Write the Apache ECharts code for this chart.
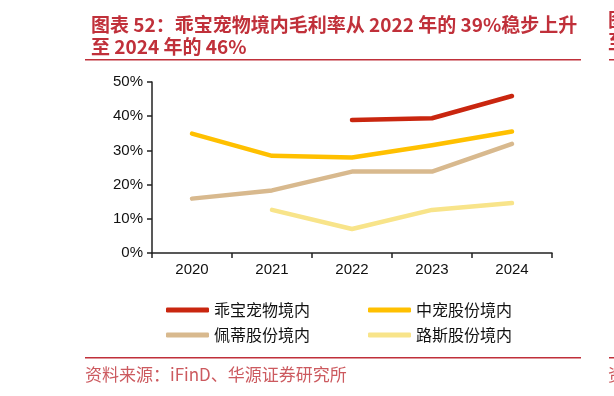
<!DOCTYPE html>
<html>
<head>
<meta charset="utf-8">
<script src="https://cdn.jsdelivr.net/npm/echarts@6/dist/echarts.min.js"></script>
<style>
  html, body { margin: 0; padding: 0; background: #fff; }
  #chart { width: 614px; height: 396px; }
</style>
</head>
<body>
<div id="chart"></div>
<script>
// 数据
const years = ['2020', '2021', '2022', '2023', '2024']
const guaibao = [null, null, 38.9, 39.4, 45.9]
const zhongchong = [34.9, 28.4, 27.9, 31.5, 35.5]
const peidi = [15.9, 18.3, 23.8, 23.8, 31.9]
const lusi = [null, 12.6, 7.0, 12.6, 14.6]
const yTicks = [0, 10, 20, 30, 40, 50]

const seriesNames = ['乖宝宠物境内', '中宠股份境内', '佩蒂股份境内', '路斯股份境内']
const seriesColors = ['#C9260F', '#FFC000', '#D8B98E', '#F8E48A']
const seriesData = [guaibao, zhongchong, peidi, lusi]

const titleColor = '#C0303A'
const cjk = '"Noto Sans CJK SC", sans-serif'
const latin = '"Liberation Sans", Arial, sans-serif'

const chart = echarts.init(document.getElementById('chart'))

const legendCommon = {
  left: 161,
  itemWidth: 43,
  itemHeight: 5,
  itemGap: 58,
  icon: 'roundRect',
  textStyle: { fontFamily: cjk, fontSize: 16, color: '#111', padding: [0, 0, 0, 0] }
}

const option = {
  backgroundColor: '#fff',
  animation: false,
  title: {
    text: '图表 52：乖宝宠物境内毛利率从 2022 年的 39%稳步上升\n至 2024 年的 46%',
    left: 86,
    top: 9,
    textStyle: {
      fontFamily: cjk,
      fontSize: 19,
      fontWeight: 'bold',
      color: titleColor,
      lineHeight: 22
    }
  },
  legend: [
    Object.assign({ top: 297, data: [seriesNames[0], seriesNames[1]] }, legendCommon),
    Object.assign({ top: 322, data: [seriesNames[2], seriesNames[3]] }, legendCommon)
  ],
  grid: { left: 152, right: 62, top: 82, bottom: 143 },
  xAxis: {
    type: 'category',
    data: years,
    boundaryGap: true,
    axisLine: { lineStyle: { color: '#222', width: 1.5 } },
    axisTick: { show: true, length: 5, lineStyle: { color: '#222', width: 1.5 } },
    axisLabel: { fontFamily: latin, fontSize: 15, color: '#111', margin: 9 }
  },
  yAxis: {
    type: 'value',
    min: yTicks[0],
    max: yTicks[yTicks.length - 1],
    interval: 10,
    splitLine: { show: false },
    axisLine: { show: true, lineStyle: { color: '#222', width: 1.5 } },
    axisTick: { show: true, length: 5, lineStyle: { color: '#222', width: 1.5 } },
    axisLabel: { fontFamily: latin, fontSize: 15, color: '#111', margin: 9, formatter: '{value}%' }
  },
  series: seriesNames.map((name, i) => ({
    name: name,
    type: 'line',
    data: seriesData[i],
    symbol: 'none',
    connectNulls: false,
    color: seriesColors[i],
    lineStyle: { width: 4.5, color: seriesColors[i], cap: 'round', join: 'round' },
    z: 10 - i
  })),
  graphic: [
    { type: 'rect', shape: { x: 85, y: 59, width: 496, height: 1.5 }, style: { fill: titleColor } },
    { type: 'rect', shape: { x: 85, y: 357, width: 496, height: 1.5 }, style: { fill: titleColor } },
    {
      type: 'text', left: 85, top: 366,
      style: { text: '资料来源：iFinD、华源证券研究所', font: '17px ' + cjk, fill: '#CC5A5F' }
    },
    // 右侧相邻图表的残留边缘
    { type: 'rect', shape: { x: 609, y: 59, width: 5, height: 1.5 }, style: { fill: titleColor } },
    { type: 'rect', shape: { x: 609, y: 357, width: 5, height: 1.5 }, style: { fill: titleColor } },
    { type: 'text', x: 608, y: 10, style: { text: '图', font: 'bold 19px ' + cjk, fill: titleColor } },
    { type: 'text', x: 608, y: 32, style: { text: '至', font: 'bold 19px ' + cjk, fill: titleColor } },
    { type: 'text', x: 608, y: 366, style: { text: '资', font: '17px ' + cjk, fill: '#CC5A5F' } }
  ]
}

chart.setOption(option)
</script>
</body>
</html>
